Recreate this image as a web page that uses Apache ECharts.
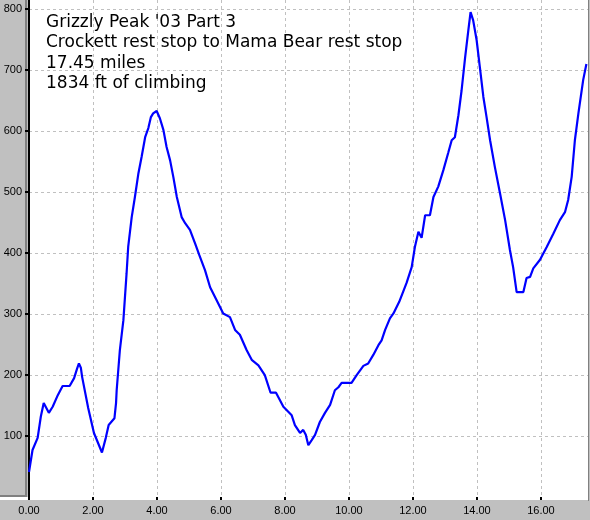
<!DOCTYPE html>
<html>
<head>
<meta charset="utf-8">
<script src="https://cdn.jsdelivr.net/npm/echarts@6/dist/echarts.min.js"></script>
<style>
html,body{margin:0;padding:0;background:#c0c0c0;}
#chart{width:590px;height:520px;}
</style>
</head>
<body>
<div id="chart"></div>
<script>
// Distance along the route (miles)
var miles = [0.00,0.11,0.27,0.37,0.46,0.52,0.62,0.74,0.90,1.05,1.27,1.41,1.50,1.56,1.62,1.66,1.85,2.03,2.28,2.40,2.49,2.67,2.72,2.74,2.84,2.95,3.05,3.10,3.21,3.31,3.42,3.52,3.63,3.73,3.78,3.81,3.88,3.99,4.09,4.20,4.30,4.41,4.51,4.62,4.77,4.88,5.03,5.19,5.32,5.50,5.66,5.86,6.07,6.28,6.44,6.59,6.80,6.96,7.17,7.37,7.55,7.72,7.95,8.21,8.31,8.47,8.57,8.65,8.73,8.83,8.94,9.09,9.25,9.41,9.56,9.67,9.77,10.08,10.24,10.45,10.60,10.76,10.92,11.02,11.13,11.28,11.39,11.57,11.80,11.96,12.06,12.17,12.27,12.38,12.53,12.64,12.79,12.95,13.10,13.21,13.31,13.42,13.52,13.63,13.73,13.80,13.88,13.99,14.09,14.20,14.30,14.41,14.56,14.72,14.88,15.03,15.13,15.24,15.45,15.55,15.66,15.76,15.97,16.18,16.39,16.59,16.75,16.85,16.96,17.06,17.17,17.32,17.42];
// Elevation (ft)
var elevation = [41,77,97,132,154,152,138,148,167,182,182,195,210,219,212,197,146,105,73,97,118,129,154,175,241,290,367,410,459,492,531,558,590,605,608,623,629,633,621,602,574,552,525,492,459,449,438,416,397,372,344,323,301,295,274,266,241,225,216,200,171,171,148,134,118,105,110,102,85,93,102,123,138,151,175,180,187,187,200,215,219,233,249,257,274,293,301,320,351,377,410,435,425,462,462,492,509,536,564,585,590,626,667,721,765,795,782,749,705,656,623,585,541,498,454,405,377,336,336,359,361,375,389,410,432,454,467,487,525,585,629,684,710];
var titleLines = ["Grizzly Peak '03 Part 3","Crockett rest stop to Mama Bear rest stop","17.45 miles","1834 ft of climbing"];
var xMin = 0, xMax = 17.47, xStep = 2;
var yMin = 0, yMax = 815, yStep = 100;

var pts = miles.map(function(m,i){return [m, elevation[i]];});
var chart = echarts.init(document.getElementById('chart'), null, {renderer:'canvas'});
chart.setOption({
  backgroundColor:'#c0c0c0',
  animation:false,
  title:{
    text: titleLines.join('\n'),
    left: 41, top: 7,
    textStyle:{fontFamily:'DejaVu Sans', fontSize:17, fontWeight:'normal', color:'#000', lineHeight:20.5}
  },
  graphic:[
    {type:'rect', z:-10, shape:{x:29,y:0,width:559,height:500}, style:{fill:'#fff'}},
    {type:'rect', z:-10, shape:{x:0,y:497,width:588,height:3}, style:{fill:'#fff'}},
    {type:'rect', z:-9, shape:{x:25,y:0,width:2,height:497}, style:{fill:'#808080'}},
    {type:'rect', z:-9, shape:{x:0,y:495,width:27,height:2}, style:{fill:'#808080'}},
    {type:'rect', z:-9, shape:{x:588,y:0,width:1,height:501}, style:{fill:'#808080'}}
  ],
  grid:{left:29, right:2, top:0, bottom:23, containLabel:false},
  xAxis:{
    type:'value', min:xMin, max:xMax, interval:xStep, offset:3,
    axisLine:{show:false},
    axisTick:{show:true, length:3, lineStyle:{color:'#000', width:2}},
    axisLabel:{show:true, margin:5, color:'#000', fontFamily:'Liberation Sans', fontSize:11,
      showMaxLabel:false, formatter:function(v){return v.toFixed(2);}},
    splitLine:{show:true, showMinLine:false, showMaxLine:false, lineStyle:{color:'#c0c0c0', type:[3,3], width:1}}
  },
  yAxis:{
    type:'value', min:yMin, max:yMax, interval:yStep,
    axisLine:{show:true, lineStyle:{color:'#000', width:2}},
    axisTick:{show:true, length:4, lineStyle:{color:'#000', width:2}},
    axisLabel:{show:true, margin:7, color:'#000', fontFamily:'Liberation Sans', fontSize:11,
      showMinLabel:false, showMaxLabel:false},
    splitLine:{show:true, showMinLine:false, showMaxLine:false, lineStyle:{color:'#c0c0c0', type:[3,3], width:1}}
  },
  series:[{
    type:'line', data:pts, showSymbol:false, symbol:'none', smooth:false,
    lineStyle:{color:'#0000ff', width:2.2}, z:3
  }]
});
</script>
</body>
</html>
